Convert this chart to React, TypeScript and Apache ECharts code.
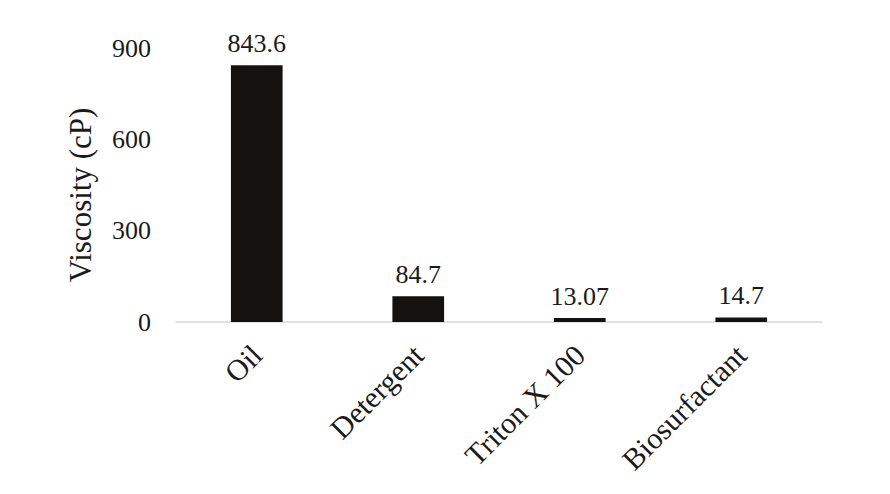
import React, { useEffect, useRef } from "react";
import * as echarts from "echarts";

const categories = ["Oil", "Detergent", "Triton X 100", "Biosurfactant"];
const viscosity = [843.6, 84.7, 13.07, 14.7];
const valueLabels = ["843.6", "84.7", "13.07", "14.7"];
const yTicks = [0, 300, 600, 900];

const FONT = "'Liberation Serif', 'Times New Roman', serif";

export default function App() {
  const ref = useRef<HTMLDivElement>(null);
  useEffect(() => {
    if (!ref.current) return;
    const chart = echarts.init(ref.current, null, { renderer: "svg" });
    chart.setOption({
      animation: false,
      backgroundColor: "#ffffff",
      grid: { left: 176, right: 68, top: 48, bottom: 172, containLabel: false },
      xAxis: {
        type: "category",
        data: categories,
        axisLine: { show: true, lineStyle: { color: "#d9d9d9", width: 1.5 } },
        axisTick: { show: false },
        axisLabel: {
          rotate: 45,
          margin: 28,
          fontFamily: FONT,
          fontSize: 30,
          color: "#1a1a1a",
        },
      },
      yAxis: {
        type: "value",
        min: yTicks[0],
        max: yTicks[yTicks.length - 1],
        interval: 300,
        name: "Viscosity (cP)",
        nameLocation: "middle",
        nameGap: 80,
        nameTextStyle: {
          fontFamily: FONT,
          fontSize: 31,
          color: "#1a1a1a",
          padding: [0, 20, 0, 0],
        },
        axisLine: { show: false },
        axisTick: { show: false },
        splitLine: { show: false },
        axisLabel: {
          margin: 25,
          fontFamily: FONT,
          fontSize: 26,
          color: "#1a1a1a",
        },
      },
      series: [
        {
          type: "bar",
          data: viscosity,
          barWidth: "32%",
          itemStyle: { color: "#131211" },
          label: {
            show: true,
            position: "top",
            distance: 9,
            fontFamily: FONT,
            fontSize: 26,
            color: "#1a1a1a",
            formatter: (p: any) => valueLabels[p.dataIndex],
          },
        },
      ],
    });
    return () => chart.dispose();
  }, []);
  return (
    <div
      ref={ref}
      style={{ position: "absolute", left: 0, top: 0, width: 890, height: 494 }}
    />
  );
}
